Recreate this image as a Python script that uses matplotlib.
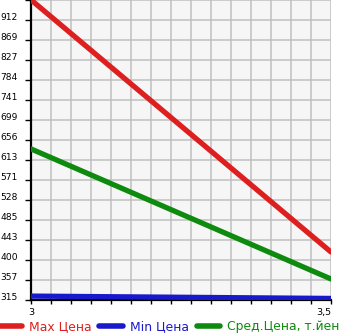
import numpy as np
import matplotlib
matplotlib.use("Agg")
import matplotlib.pyplot as plt
from matplotlib.ticker import FixedLocator, NullFormatter
from matplotlib.lines import Line2D

x = [3.0, 3.5]
max_price = [955, 417]
min_price = [323, 318]
avg_price = [637, 359.5]
ytick_labels = ["315", "357", "400", "443", "485", "528", "571", "613", "656",
                "699", "741", "784", "827", "869", "912", ""]
xtick_labels = ["3", "3,5"]
ymin, ymax = 314.67, 954.67

W, H = 345, 335
fig = plt.figure(figsize=(W / 100, H / 100), dpi=100)
ax = fig.add_axes([31 / W, 1 - 300 / H, 300 / W, 300 / H])
ax.set_facecolor("#f6f6f6")

red, blue, green = "#dd1f1f", "#1919cc", "#0e8a0e"
ax.plot(x, max_price, color=red, lw=3.8, solid_capstyle="round", zorder=3)
ax.plot(x, avg_price, color=green, lw=3.8, solid_capstyle="round", zorder=3)
ax.plot(x, min_price, color=blue, lw=3.8, solid_capstyle="round", zorder=3)

ax.set_xlim(3.0, 3.5)
ax.set_ylim(ymin, ymax)
yt = np.linspace(ymin, ymax, 16)
ax.set_yticks(yt)
ax.set_yticklabels(ytick_labels)
for lab in ax.get_yticklabels():
    lab.set_verticalalignment("baseline")
ax.set_xticks([3.0, 3.5])
ax.set_xticklabels(xtick_labels)
ax.xaxis.set_minor_locator(FixedLocator(np.linspace(3.0, 3.5, 16)))
ax.xaxis.set_minor_formatter(NullFormatter())
ax.grid(True, which="both", color="#c0c0c0", lw=1.1)
ax.set_axisbelow(True)
for s in ["top", "right"]:
    ax.spines[s].set_visible(False)
for s in ["left", "bottom"]:
    ax.spines[s].set_color("black")
    ax.spines[s].set_linewidth(1.6)
ax.tick_params(axis="y", length=4, width=1, labelsize=6.6, pad=5.5, colors="black")
ax.tick_params(axis="x", which="both", length=3, width=1, labelsize=6.8, pad=3)
xl = ax.get_xticklabels()
xl[0].set_horizontalalignment("center")
xl[1].set_horizontalalignment("right")

handles = [Line2D([], [], color=red, lw=4, solid_capstyle="round"),
           Line2D([], [], color=blue, lw=4, solid_capstyle="round"),
           Line2D([], [], color=green, lw=4, solid_capstyle="round")]
labels = ["Max Цена", "Min Цена", "Сред.Цена, т.йен"]
leg = fig.legend(handles, labels, loc="center left", bbox_to_anchor=(-0.005, 8.5 / H),
                 ncol=3, frameon=False, fontsize=8.9, handlelength=1.9,
                 handletextpad=0.55, columnspacing=0.65, borderaxespad=0, borderpad=0)
for t, c in zip(leg.get_texts(), [red, blue, green]):
    t.set_color(c)

fig.savefig("out.png", dpi=100)
